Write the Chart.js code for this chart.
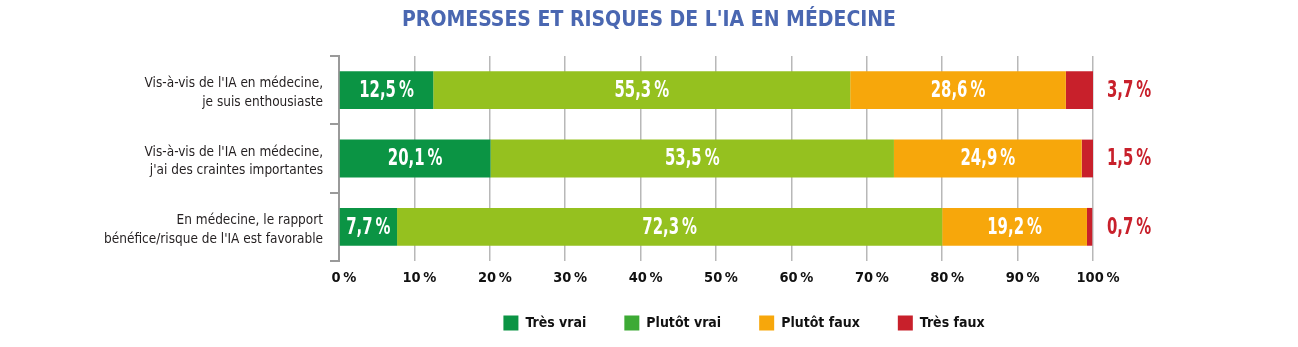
<!DOCTYPE html>
<html>
<head>
<meta charset="utf-8">
<script src="https://cdn.jsdelivr.net/npm/chart.js@4.4.1/dist/chart.umd.min.js"></script>
<style>
  html, body { margin: 0; padding: 0; background: #ffffff; }
  #wrap { width: 1298px; height: 347px; position: relative; }
</style>
</head>
<body>
<div id="wrap"><canvas id="c"></canvas></div>
<script>
// ---------- data ----------
const chartTitle = "PROMESSES ET RISQUES DE L'IA EN MÉDECINE";
const categories = [
  ["Vis-à-vis de l'IA en médecine,", "je suis enthousiaste"],
  ["Vis-à-vis de l'IA en médecine,", "j'ai des craintes importantes"],
  ["En médecine, le rapport", "bénéfice/risque de l'IA est favorable"]
];
const seriesNames = ["Très vrai", "Plutôt vrai", "Plutôt faux", "Très faux"];
const tresVrai   = [12.5, 20.1, 7.7];
const plutotVrai = [55.3, 53.5, 72.3];
const plutotFaux = [28.6, 24.9, 19.2];
const tresFaux   = [3.7, 1.5, 0.7];
const xTickLabels = ["0\u202F%", "10\u202F%", "20\u202F%", "30\u202F%", "40\u202F%", "50\u202F%", "60\u202F%", "70\u202F%", "80\u202F%", "90\u202F%", "100\u202F%"];

// ---------- styles ----------
const FONT = '"Liberation Sans Narrow", "DejaVu Sans Condensed", "Roboto", sans-serif';
const barColors    = ["#0b9444", "#95c11f", "#f7a70b", "#c8202b"];
const legendColors = ["#0b9444", "#3daa35", "#f7a70b", "#c8202b"];
const LEGEND_CENTER_X = 744;
const LEGEND_CENTER_Y = 323;
const LEGEND_PAD = 38;
const LEGEND_BOX = 15;

function fmt(v) { return v.toFixed(1).replace('.', ',') + '\u202F%'; }

function drawCondensed(ctx, txt, x, y, align, sx) {
  ctx.save();
  ctx.translate(x, y);
  ctx.scale(sx, 1);
  ctx.textAlign = align;
  ctx.fillText(txt, 0, 0);
  ctx.restore();
}

const valueLabels = {
  id: 'valueLabels',
  afterDatasetsDraw(chart) {
    const ctx = chart.ctx;
    ctx.save();
    ctx.font = 'bold 23px ' + FONT;
    ctx.textBaseline = 'middle';
    chart.data.datasets.forEach((ds, di) => {
      const meta = chart.getDatasetMeta(di);
      meta.data.forEach((bar, i) => {
        const txt = fmt(ds.data[i]);
        if (di === 3) {
          ctx.fillStyle = '#c8202b';
          drawCondensed(ctx, txt, chart.chartArea.right + 14, bar.y + 1, 'left', 0.72);
        } else {
          ctx.fillStyle = '#ffffff';
          drawCondensed(ctx, txt, (bar.x + bar.base) / 2, bar.y + 1, 'center', 0.72);
        }
      });
    });
    ctx.restore();
  }
};

const placeBlocks = {
  id: 'placeBlocks',
  afterLayout(chart) {
    const t = chart.titleBlock;
    if (t) { t.left = 0; t.right = chart.width; t.width = chart.width; }
    const lg = chart.legend;
    if (lg) {
      const dx = LEGEND_CENTER_X - (lg.left + lg.right) / 2;
      lg.left += dx; lg.right += dx;
      lg.top = LEGEND_CENTER_Y - LEGEND_BOX / 2 - LEGEND_PAD;
      lg.bottom = chart.height;
      lg.height = lg.bottom - lg.top;
    }
  }
};

const datasets = [tresVrai, plutotVrai, plutotFaux, tresFaux].map((d, i) => ({
  label: seriesNames[i],
  data: d,
  backgroundColor: barColors[i],
  borderWidth: 0,
  categoryPercentage: 1.0,
  barPercentage: 0.553
}));

new Chart(document.getElementById('c'), {
  type: 'bar',
  data: { labels: categories, datasets },
  plugins: [valueLabels, placeBlocks],
  options: {
    indexAxis: 'y',
    responsive: true,
    maintainAspectRatio: false,
    animation: false,
    layout: { padding: { left: 0, right: 205, top: 0, bottom: 0 } },
    scales: {
      x: {
        stacked: true, min: 0, max: 100,
        grid: { color: '#b8b8b8', lineWidth: 1.5, drawTicks: false },
        border: { display: false },
        ticks: {
          stepSize: 10, padding: 9, labelOffset: 5, color: '#111111',
          font: { family: FONT, size: 14.5, weight: 'bold', lineHeight: 1.2 },
          callback: (v, i) => xTickLabels[i]
        }
      },
      y: {
        stacked: true,
        afterFit: (s) => { s.width = 339; },
        grid: { offset: true, drawOnChartArea: false, drawTicks: true, tickLength: 9, color: '#9a9a9a', lineWidth: 2 },
        border: { display: true, color: '#9a9a9a', width: 2 },
        ticks: { padding: 7, labelOffset: 3, color: '#231f20', font: { family: FONT, size: 13.5, lineHeight: 1.4 } }
      }
    },
    plugins: {
      title: {
        display: true, text: chartTitle, color: '#4a67b1',
        font: { family: FONT, size: 21, weight: 'bold', lineHeight: 1.2 },
        padding: { top: 8, bottom: 22.8 }
      },
      legend: {
        position: 'bottom',
        maxHeight: 50.6,
        labels: {
          boxWidth: LEGEND_BOX, boxHeight: LEGEND_BOX, padding: LEGEND_PAD, color: '#111111',
          font: { family: FONT, size: 14, weight: 'bold' },
          generateLabels: (chart) => chart.data.datasets.map((ds, i) => ({
            text: ds.label, fillStyle: legendColors[i], strokeStyle: legendColors[i],
            lineWidth: 0, hidden: false, datasetIndex: i, fontColor: '#111111'
          }))
        }
      },
      tooltip: { enabled: false }
    }
  }
});
</script>
</body>
</html>
